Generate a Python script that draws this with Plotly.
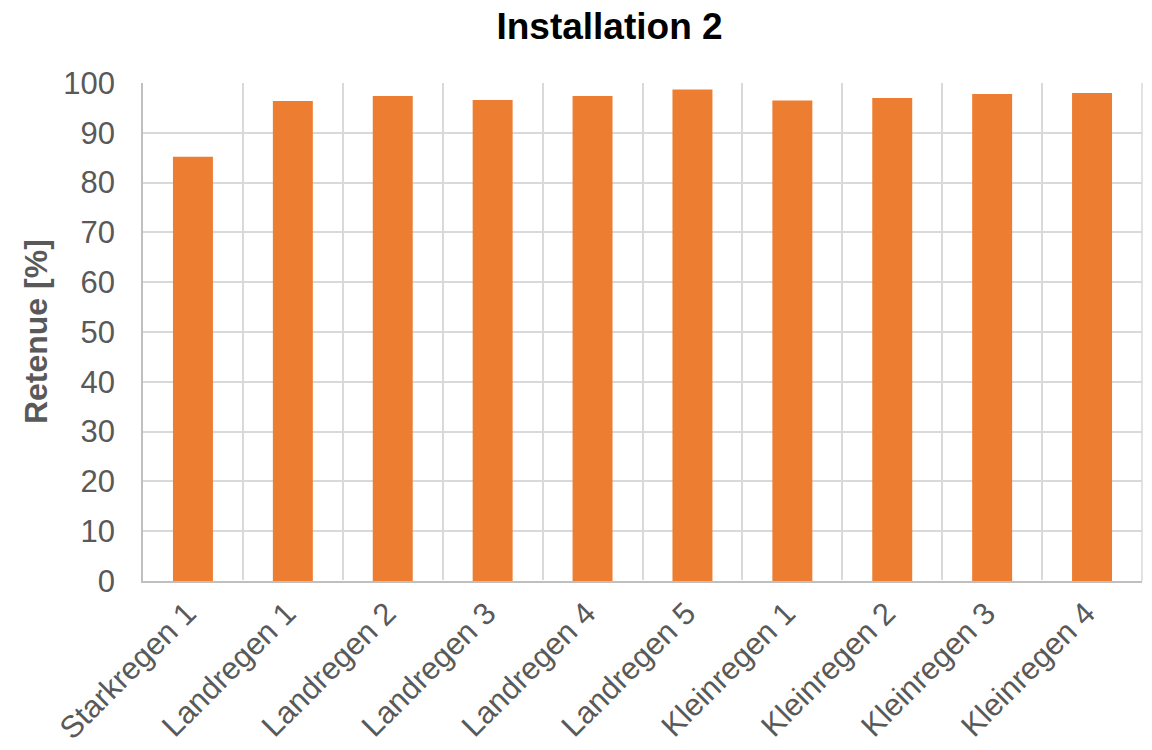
import plotly.graph_objects as go

categories = ["Starkregen 1", "Landregen 1", "Landregen 2", "Landregen 3", "Landregen 4",
              "Landregen 5", "Kleinregen 1", "Kleinregen 2", "Kleinregen 3", "Kleinregen 4"]
values = [85.2, 96.4, 97.4, 96.6, 97.4, 98.7, 96.5, 97.0, 97.8, 98.0]
y_ticks = [0, 10, 20, 30, 40, 50, 60, 70, 80, 90, 100]

FONT = "Liberation Sans, Arial, sans-serif"

fig = go.Figure(go.Bar(x=categories, y=values, marker=dict(color="#ED7D31", line=dict(width=0)),
                       width=0.4))

fig.update_layout(
    width=1144, height=742,
    paper_bgcolor="white", plot_bgcolor="white",
    margin=dict(l=135, r=10, t=75, b=169),
    font=dict(family=FONT, color="#595959"),
    title=dict(text="<b>Installation 2</b>", xref="paper", x=0.467, xanchor="center",
               yref="container", y=1 - 18 / 742, yanchor="middle",
               font=dict(size=37, color="black")),
    showlegend=False,
)
fig.update_yaxes(range=[0, 100], tickvals=y_ticks, showgrid=True, gridcolor="#D9D9D9", gridwidth=1.5,
                 showline=True, linecolor="#BFBFBF", linewidth=1.5, ticks="", automargin=False,
                 tickfont=dict(size=31, color="#595959"), ticklabelstandoff=20)
fig.update_xaxes(tickson="boundaries", showgrid=True, gridcolor="#D9D9D9", gridwidth=1.5,
                 showline=True, linecolor="#BFBFBF", linewidth=1.5, ticks="", automargin=False,
                 tickangle=-45, tickfont=dict(size=31, color="#595959"), ticklabelshift=-6)
fig.add_shape(type="line", xref="paper", yref="paper", x0=1, x1=1, y0=0, y1=1,
              line=dict(color="#D9D9D9", width=1.5))
fig.add_annotation(text="<b>Retenue [%]</b>", xref="paper", yref="paper", x=-0.107, y=0.5,
                   xanchor="center", yanchor="middle", textangle=-90, showarrow=False,
                   font=dict(family=FONT, size=32, color="#595959"))

fig.write_html("out.html")
